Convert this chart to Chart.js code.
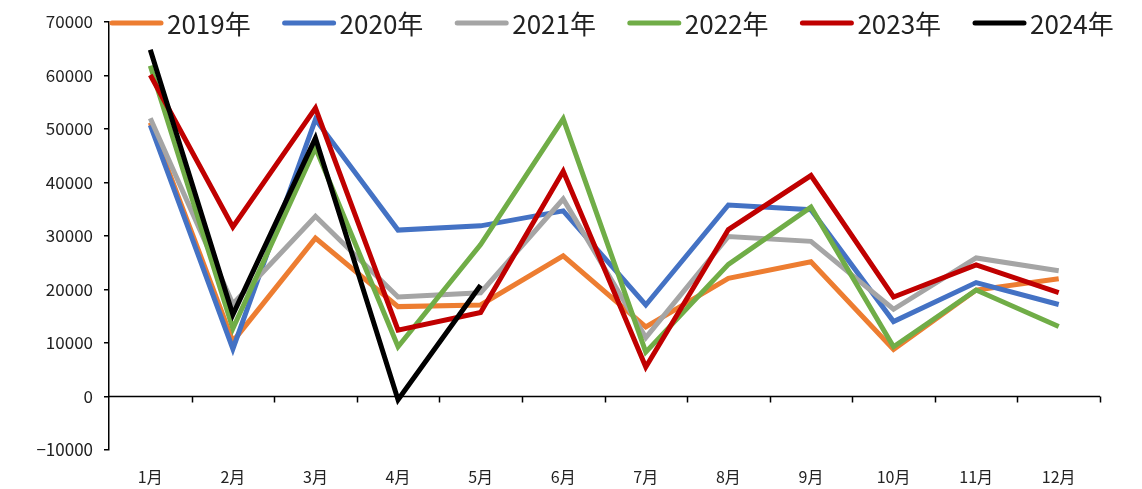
<!DOCTYPE html>
<html>
<head>
<meta charset="utf-8">
<script src="https://cdn.jsdelivr.net/npm/chart.js@4/dist/chart.umd.min.js"></script>
<style>
  html, body { margin: 0; padding: 0; background: #fff; }
  #wrap { width: 1142px; height: 489px; }
</style>
</head>
<body>
<div id="wrap"><canvas id="c" width="1142" height="489"></canvas></div>
<script>
// Monthly values by year
const months = ['1月','2月','3月','4月','5月','6月','7月','8月','9月','10月','11月','12月'];
const y2019 = [51200, 10300, 29600, 16800, 17100, 26300, 13000, 22100, 25200, 8800, 19900, 22000];
const y2020 = [50700, 8900, 51800, 31100, 31900, 34700, 17100, 35800, 34900, 14000, 21300, 17200];
const y2021 = [52000, 17300, 33700, 18600, 19400, 36900, 11000, 29900, 29000, 16300, 25900, 23500];
const y2022 = [61800, 12700, 46500, 9300, 28400, 51900, 8300, 24700, 35400, 9300, 19900, 13100];
const y2023 = [60100, 31700, 53900, 12400, 15700, 42100, 5500, 31200, 41300, 18600, 24600, 19400];
const y2024 = [64800, 15300, 48300, -600, 20800];
const yTicks = [70000, 60000, 50000, 40000, 30000, 20000, 10000, 0, -10000];

const seriesNames = ['2019年','2020年','2021年','2022年','2023年','2024年'];
const seriesData = [y2019, y2020, y2021, y2022, y2023, y2024];
const seriesColors = ['#ED7D31','#4472C4','#A5A5A5','#70AD47','#C00000','#000000'];

const FONT = '"Noto Sans CJK SC", "Noto Sans", sans-serif';

// Zero baseline with category boundary ticks, plus a hand-laid legend row
const axisDecor = {
  id: 'axisDecor',
  afterDatasetsDraw(chart) {
    const ctx = chart.ctx;
    const y = chart.scales.y;
    const area = chart.chartArea;
    const y0 = y.getPixelForValue(0);
    ctx.save();
    ctx.strokeStyle = '#000';
    ctx.lineWidth = 1.5;
    ctx.beginPath();
    ctx.moveTo(area.left, y0);
    ctx.lineTo(area.right, y0);
    const step = (area.right - area.left) / months.length;
    for (let i = 1; i <= months.length; i++) {
      const px = Math.round(area.left + step * i) + 0.5;
      ctx.moveTo(px, y0);
      ctx.lineTo(px, y0 + 6);
    }
    ctx.stroke();

    // legend
    ctx.font = '26px ' + FONT;
    ctx.textBaseline = 'middle';
    ctx.textAlign = 'left';
    const ly = 23;
    seriesNames.forEach((name, i) => {
      const sx = 110 + i * 172.6;
      ctx.strokeStyle = seriesColors[i];
      ctx.lineWidth = 5;
      ctx.lineCap = 'round';
      ctx.beginPath();
      ctx.moveTo(sx + 2, ly);
      ctx.lineTo(sx + 51, ly);
      ctx.stroke();
      ctx.fillStyle = '#222';
      ctx.fillText(name, sx + 57, ly + 1);
    });
    ctx.restore();
  }
};

new Chart(document.getElementById('c'), {
  type: 'line',
  data: {
    labels: months,
    datasets: seriesData.map((d, i) => ({
      label: seriesNames[i],
      data: d,
      borderColor: seriesColors[i],
      backgroundColor: seriesColors[i],
      borderWidth: 5,
      pointRadius: 0,
      pointHoverRadius: 0,
      tension: 0,
      fill: false,
      order: seriesData.length - 1 - i
    }))
  },
  options: {
    responsive: false,
    animation: false,
    devicePixelRatio: 1,
    layout: { padding: { left: 0, right: 42, top: 22, bottom: 0 } },
    plugins: {
      legend: { display: false },
      tooltip: { enabled: false }
    },
    scales: {
      x: {
        offset: true,
        grid: { display: false, drawTicks: false },
        border: { display: false },
        ticks: {
          padding: 17,
          color: '#222',
          font: { family: FONT, size: 16 },
          maxRotation: 0
        },
        afterFit(scale) { scale.height = 39; }
      },
      y: {
        min: -10000,
        max: 70000,
        afterBuildTicks(scale) { scale.ticks = yTicks.map(v => ({ value: v })); },
        grid: { drawOnChartArea: false, drawTicks: true, tickLength: 5, color: '#000', lineWidth: 1.5 },
        border: { display: true, color: '#000', width: 1.5 },
        ticks: {
          padding: 11,
          color: '#222',
          font: { family: FONT, size: 17 },
          callback: v => (v < 0 ? '\u2212' + Math.abs(v) : String(v))
        },
        afterFit(scale) { scale.width = 109; }
      }
    }
  },
  plugins: [axisDecor]
});
</script>
</body>
</html>
